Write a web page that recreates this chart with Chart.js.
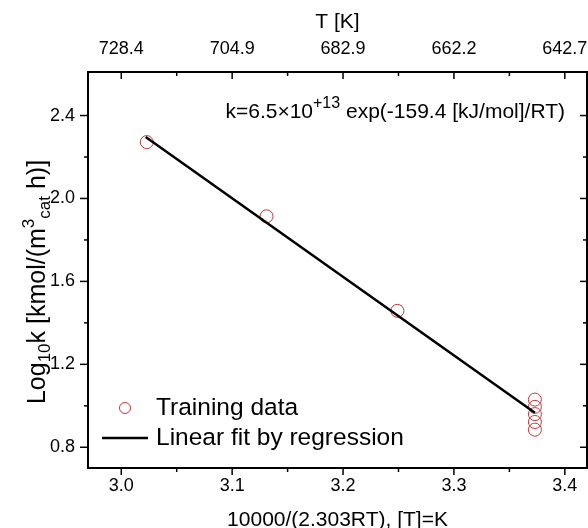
<!DOCTYPE html>
<html>
<head>
<meta charset="utf-8">
<script src="https://cdn.jsdelivr.net/npm/chart.js@4.4.1/dist/chart.umd.min.js"></script>
<style>
  html, body { margin: 0; padding: 0; background: #fff; }
  #wrap { width: 588px; height: 528px; }
</style>
</head>
<body>
<div id="wrap"><canvas id="arrhenius"></canvas></div>
<script>
// training data, x = 10000/(2.303RT), y = log10 k
const trainX = [3.023, 3.131, 3.249, 3.373, 3.373, 3.373, 3.373, 3.373];
const trainY = [2.272, 1.914, 1.458, 1.030, 0.995, 0.960, 0.922, 0.885];
// linear fit end points
const fitX = [3.022, 3.373];
const fitY = [2.296, 0.966];

const xTicks = [3.0, 3.1, 3.2, 3.3, 3.4];
const xMinor = [3.05, 3.15, 3.25, 3.35];
const tLabels = ['728.4', '704.9', '682.9', '662.2', '642.7'];
const yTicks = [0.8, 1.2, 1.6, 2.0, 2.4];
const yMinor = [1.0, 1.4, 1.8, 2.2];

const FONT = "'Liberation Sans', Arial, sans-serif";
const RED = '#c0393b';

// draws a line of text made of normal / sub / superscript pieces
function richText(ctx, parts, x, y, align) {
  let w = 0;
  parts.forEach(p => { ctx.font = p.s + 'px ' + FONT; p.w = ctx.measureText(p.t).width; w += p.w; });
  let cx = align === 'right' ? x - w : align === 'center' ? x - w / 2 : x;
  ctx.textBaseline = 'alphabetic';
  ctx.textAlign = 'left';
  parts.forEach(p => {
    ctx.font = p.s + 'px ' + FONT;
    ctx.fillText(p.t, cx, y + (p.dy || 0));
    cx += p.w;
  });
}

const decor = {
  id: 'decor',
  afterDraw(chart) {
    const ctx = chart.ctx;
    const { left, right, top, bottom } = chart.chartArea;
    const sx = chart.scales.x, sy = chart.scales.y;
    ctx.save();
    ctx.strokeStyle = '#000';
    ctx.fillStyle = '#000';

    const seg = (x1, y1, x2, y2) => { ctx.beginPath(); ctx.moveTo(x1, y1); ctx.lineTo(x2, y2); ctx.stroke(); };

    // tick marks: bottom/left outward, top/right inward
    ctx.lineWidth = 1.5;
    xTicks.forEach(v => { const p = sx.getPixelForValue(v); seg(p, bottom, p, bottom + 7); seg(p, top, p, top + 7); });
    xMinor.forEach(v => { const p = sx.getPixelForValue(v); seg(p, bottom, p, bottom + 4); seg(p, top, p, top + 4); });
    yTicks.forEach(v => { const p = sy.getPixelForValue(v); seg(left - 8, p, left, p); seg(right - 7, p, right, p); });
    yMinor.forEach(v => { const p = sy.getPixelForValue(v); seg(left - 4, p, left, p); seg(right - 4, p, right, p); });

    // frame
    ctx.lineWidth = 2;
    ctx.strokeRect(left, top, right - left, bottom - top);

    // y title, rotated
    ctx.save();
    ctx.translate(45, 282);
    ctx.rotate(-Math.PI / 2);
    richText(ctx, [
      { t: 'Log', s: 25 }, { t: '10', s: 17, dy: 5 }, { t: 'k [kmol/(m', s: 25 },
      { t: '3', s: 17, dy: -11 }, { t: 'cat', s: 17, dy: 5 }, { t: ' h)]', s: 25 }
    ], 0, 0, 'center');
    ctx.restore();

    // rate expression
    richText(ctx, [
      { t: 'k=6.5\u00d710', s: 21 }, { t: '+13', s: 16, dy: -10 },
      { t: ' exp(-159.4 [kJ/mol]/RT)', s: 21 }
    ], 565, 118, 'right');

    // legend
    ctx.lineWidth = 1;
    ctx.strokeStyle = RED;
    ctx.beginPath(); ctx.arc(125, 408, 5.5, 0, Math.PI * 2); ctx.stroke();
    ctx.strokeStyle = '#000';
    ctx.lineWidth = 2.5;
    seg(102, 438, 148, 438);
    ctx.font = '24.5px ' + FONT;
    ctx.textBaseline = 'middle';
    ctx.textAlign = 'left';
    ctx.fillText('Training data', 156, 408);
    ctx.fillText('Linear fit by regression', 156, 438);
    ctx.restore();
  }
};

const tickFont = { family: FONT, size: 18 };
const titleFont = { family: FONT, size: 21, lineHeight: 1 };

new Chart(document.getElementById('arrhenius'), {
  type: 'scatter',
  data: {
    datasets: [
      {
        label: 'Training data',
        data: trainX.map((x, i) => ({ x: x, y: trainY[i] })),
        pointRadius: 6.5,
        pointBorderWidth: 1,
        borderColor: RED,
        backgroundColor: 'rgba(0,0,0,0)',
        order: 2
      },
      {
        label: 'Linear fit by regression',
        data: fitX.map((x, i) => ({ x: x, y: fitY[i] })),
        showLine: true,
        pointRadius: 0,
        borderColor: '#000',
        borderWidth: 2.5,
        order: 1
      }
    ]
  },
  options: {
    responsive: true,
    maintainAspectRatio: false,
    devicePixelRatio: 1,
    animation: false,
    layout: { autoPadding: false, padding: { left: 0, right: 1, top: 0, bottom: 0 } },
    plugins: { legend: { display: false }, tooltip: { enabled: false } },
    scales: {
      x: {
        type: 'linear', position: 'bottom', min: 2.97, max: 3.42,
        afterBuildTicks: s => { s.ticks = xTicks.map(v => ({ value: v })); },
        ticks: { padding: 7, font: tickFont, color: '#000', maxRotation: 0, autoSkip: false,
                 callback: v => v.toFixed(1) },
        grid: { display: false, drawTicks: false },
        border: { display: false },
        title: { display: true, text: '10000/(2.303RT), [T]=K', font: titleFont, color: '#000',
                 padding: { top: 0, bottom: -3 } },
        afterFit: s => { s.height = 60; s.paddingLeft = 0; s.paddingRight = 0; }
      },
      x2: {
        type: 'linear', position: 'top', min: 2.97, max: 3.42,
        afterBuildTicks: s => { s.ticks = xTicks.map(v => ({ value: v })); },
        ticks: { padding: 12, font: tickFont, color: '#000', maxRotation: 0, autoSkip: false,
                 callback: (v, i) => tLabels[i] },
        grid: { display: false, drawTicks: false },
        border: { display: false },
        title: { display: true, text: 'T [K]', font: titleFont, color: '#000',
                 padding: { top: 12, bottom: 0 } },
        afterFit: s => { s.height = 72; s.paddingLeft = 0; s.paddingRight = 0; }
      },
      y: {
        type: 'linear', position: 'left', min: 0.70, max: 2.61,
        afterBuildTicks: s => { s.ticks = yTicks.map(v => ({ value: v })); },
        ticks: { padding: 13, font: tickFont, color: '#000', callback: v => v.toFixed(1) },
        grid: { display: false, drawTicks: false },
        border: { display: false },
        afterFit: s => { s.width = 88; }
      }
    }
  },
  plugins: [decor]
});
</script>
</body>
</html>
